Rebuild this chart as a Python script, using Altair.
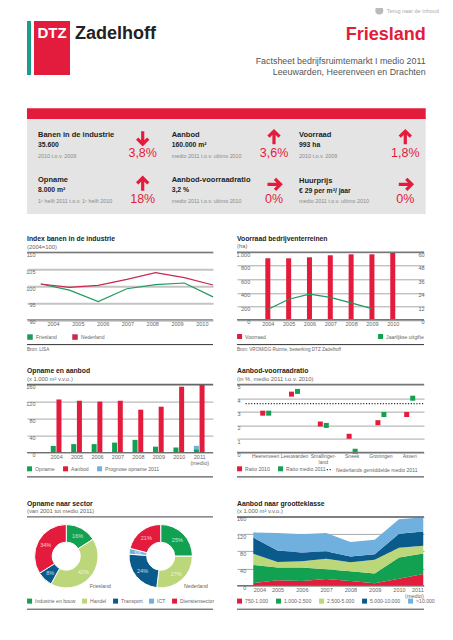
import altair as alt
import pandas as pd

# ---------- data ----------
IDX_YEARS = [2004, 2005, 2006, 2007, 2008, 2009, 2010]
IDX_FRIESLAND = [100.6, 98.8, 95.4, 99.2, 100.4, 100.9, 96.8]
IDX_NEDERLAND = [100.6, 99.6, 100.2, 102.0, 104.0, 102.5, 100.3]

STOCK_YEARS = [2004, 2005, 2006, 2007, 2008, 2009, 2010]
STOCK_HA = [911, 911, 926, 956, 970, 970, 993]
ISSUE_YEARS = [2004, 2005, 2006, 2007, 2008, 2009]
ISSUE_HA = [9.2, 18.3, 22.8, 20, 15, 10]

OA_YEARS = [2004, 2005, 2006, 2007, 2008, 2009, 2010, 2011]
OPNAME = [15.7, 20, 20, 23.5, 30, 14, 12, 8]
PROGNOSE = [0, 0, 0, 0, 0, 0, 0, 8]
AANBOD = [125, 122, 120, 122, 101, 108, 155, 160]

CITIES = ["Heerenveen", "Leeuwarden", "Smallinger-\nland", "Sneek", "Groningen", "Assen"]
RATIO_2010 = [2.9, 4.3, 2.1, 1.2, 2.2, 2.8]
RATIO_2011 = [2.9, 4.5, 2.0, 0.1, 2.8, 4.0]
RATIO_NL = 3.6

SECTORS = ["Industrie en bouw", "Handel", "Transport", "ICT", "Dienstensector"]
SECTOR_FR = [16, 42, 8, 0, 34]
SECTOR_NL = [25, 27, 24, 3, 21]

SIZE_YEARS = [2004, 2005, 2006, 2007, 2008, 2009, 2010, 2011]
SIZE_CLASSES = ["750-1.000", "1.000-2.500", "2.500-5.000", "5.000-10.000", ">10.000"]
SIZE_VALUES = [
    [6, 12.5, 11, 15.5, 11, 5.5, 16, 27],
    [42, 29.5, 31, 22.5, 22.5, 22.5, 49.5, 48],
    [26, 13, 15, 24.5, 21, 32, 22.5, 18],
    [38, 27, 20, 17.5, 13.5, 13, 33, 33],
    [12, 40.5, 42.5, 42.5, 33.5, 34, 33.5, 33],
]

KPI_TITLES = ["Banen in de industrie", "Aanbod", "Voorraad",
              "Opname", "Aanbod-voorraadratio", "Huurprijs"]
KPI_VALUES = ["35.600", "160.000 m²", "993 ha", "8.000 m²", "3,2 %", "€ 29 per m²/ jaar"]
KPI_NOTES = ["2010 t.o.v. 2009", "medio 2011 t.o.v. ultimo 2010", "2010 t.o.v. 2009",
             "1ᵉ helft 2011 t.o.v. 1ᵉ helft 2010", "medio 2011 t.o.v. ultimo 2010",
             "medio 2011 t.o.v. ultimo 2010"]
KPI_PCT = ["3,8%", "3,6%", "1,8%", "18%", "0%", "0%"]
KPI_DIR = ["down", "up", "up", "up", "right", "right"]

# ---------- style ----------
FONT = "Liberation Sans"
RED = "#e31b3c"
GREEN = "#12a150"
LGREEN = "#bcd67a"
DBLUE = "#0b5a8c"
LBLUE = "#6fb0de"
GREY_TXT = "#666666"
DARK = "#222222"
ONE = alt.Data(values=[{"a": 1}])
LEG_Y = 81.5

ARROWS = {
    "up": "M0,1L0,-1M-0.85,-0.15L0,-1L0.85,-0.15",
    "down": "M0,-1L0,1M-0.85,0.15L0,1L0.85,0.15",
    "right": "M-1,0L1,0M0.15,-0.85L1,0L0.15,0.85",
}


def txt(s, x, y, size=5.5, color=GREY_TXT, align="left", weight="normal", baseline="middle"):
    return alt.Chart(ONE).mark_text(text=s, fontSize=size, color=color, align=align,
                                    fontWeight=weight, baseline=baseline, font=FONT
                                    ).encode(x=alt.value(x), y=alt.value(y))


def box(x, x2, y, y2, color):
    return alt.Chart(ONE).mark_rect(color=color).encode(
        x=alt.value(x), x2=alt.value(x2), y=alt.value(y), y2=alt.value(y2))


def hrule(w, y, color="#666666", sw=1.0):
    return alt.Chart(ONE).mark_rule(color=color, strokeWidth=sw).encode(
        x=alt.value(0), x2=alt.value(w), y=alt.value(y))


def ttl(a, b):
    return alt.TitleParams(text=a, subtitle=b, anchor="start", frame="group", offset=2.5,
                           font=FONT, fontSize=6.8, fontWeight="bold", color=DARK,
                           subtitleFont=FONT, subtitleFontSize=5.8, subtitleColor=GREY_TXT,
                           subtitlePadding=0.5)


def legend(y, pad, x=0, columns=5):
    return alt.Legend(orient="none", legendX=x, legendY=y, direction="horizontal", columns=columns,
                      title=None, symbolType="square", symbolSize=25, symbolStrokeWidth=0,
                      labelFont=FONT, labelFontSize=5.1, labelColor=GREY_TXT, labelOffset=3,
                      columnPadding=pad, padding=0, symbolOpacity=1, labelLimit=300)


def yaxis(values, pad, orient="left", grid=True, gcol="#a8a8a8", gw=1.0, expr=None, align=None):
    kw = {}
    if expr:
        kw["labelExpr"] = expr
    return alt.Axis(values=values, orient=orient, title=None, domain=False, ticks=False,
                    grid=grid, gridColor=gcol, gridWidth=gw, labelFont=FONT, labelFontSize=5.5,
                    labelColor=GREY_TXT, labelPadding=pad, labelBaseline="top",
                    labelAlign=align or "right", labelFlush=False, labelBound=False, **kw)


def xaxis(values, pad=1.5, **kw):
    return alt.Axis(values=values, title=None, domain=False, ticks=False, grid=False,
                    labelFont=FONT, labelFontSize=5.5, labelColor=GREY_TXT, labelPadding=pad,
                    labelAngle=0, labelFlush=False, labelBound=False, labelOverlap=False,
                    format="d", **kw)


W1, W2 = 186, 187
H1, H2, H3 = 67.5, 68, 68.7
MEDIO = "datum.value==2011?['2011','(medio)']:datum.label"

# ---------- header ----------
head = [
    box(0, 4, 13, 67, "#1a9e8a"),
    box(7, 43, 13, 67, RED),
    txt("DTZ", 25, 25, 15, "#ffffff", "center", "bold"),
    txt("Zadelhoff", 48, 26, 18, DARK, "left", "bold"),
    txt("Terug naar de inhoud", 359.7, 2.5, 5.5, "#aaaaaa"),
    alt.Chart(ONE).mark_circle(color="#bbbbbb", size=64, opacity=1).encode(
        x=alt.value(352.3), y=alt.value(2.5)),
    txt("Friesland", 398.7, 27.3, 18, RED, "right", "bold"),
    txt("Factsheet bedrijfsruimtemarkt I medio 2011", 398.7, 53, 8.9, "#555555", "right"),
    txt("Leeuwarden, Heerenveen en Drachten", 398.7, 64.3, 8.9, "#555555", "right"),
    box(0, 398.7, 108, 206, "#e4e4e4"),
    box(0, 398.7, 100.3, 111, RED),
]
COLX = [11, 144.7, 272]
ARRX = [115.7, 247, 378.3]
ROWY = [[127, 137, 147.7], [172.3, 182, 192.7]]
ARRY = [[129.7, 145.3], [176.3, 190.7]]
for i in range(6):
    r, c = i // 3, i % 3
    extra = 0.7 if (r == 1 and c == 2) else 0
    head += [
        txt(KPI_TITLES[i], COLX[c], ROWY[r][0] + extra, 7.5, DARK, weight="bold"),
        txt(KPI_VALUES[i], COLX[c], ROWY[r][1] + extra, 6.8, DARK, weight="bold"),
        txt(KPI_NOTES[i], COLX[c], ROWY[r][2] + extra, 5.4, "#8a8a8a"),
        alt.Chart(ONE).mark_point(shape=ARROWS[KPI_DIR[i]], size=170, filled=False, opacity=1,
                                  stroke=RED, strokeWidth=3.2).encode(
            x=alt.value(ARRX[c]), y=alt.value(ARRY[r][0])),
        txt(KPI_PCT[i], ARRX[c], ARRY[r][1], 12.5, RED, "center"),
    ]
header = alt.layer(*head).properties(width=W1, height=179.7)
blank = alt.Chart(ONE).mark_text(text=" ").encode(x=alt.value(0), y=alt.value(0)).properties(width=W2, height=179.7)

# ---------- chart 1 ----------
d1 = pd.DataFrame({"year": IDX_YEARS * 2, "v": IDX_FRIESLAND + IDX_NEDERLAND,
                   "s": ["Friesland"] * 7 + ["Nederland"] * 7})
lab1 = pd.DataFrame({"year": IDX_YEARS})
c1_line = alt.Chart(d1).mark_line(strokeWidth=1.2, clip=False).encode(
    x=alt.X("year:Q", scale=alt.Scale(domain=[2003.52, 2010], nice=False, zero=False), axis=None),
    y=alt.Y("v:Q", scale=alt.Scale(domain=[90, 110], nice=False, zero=False),
            axis=yaxis([90, 95, 100, 105, 110], -8, gcol="#c4c4c4", gw=2)),
    color=alt.Color("s:N", scale=alt.Scale(domain=["Friesland", "Nederland"], range=["#1f9a5c", "#c9284f"]),
                    legend=alt.Legend(orient="none", legendX=0, legendY=LEG_Y, direction="horizontal",
                                      columns=2, title=None, symbolType="square", symbolSize=1,
                                      symbolStrokeWidth=4.5, labelFont=FONT, labelFontSize=5.1,
                                      labelColor=GREY_TXT, labelOffset=3, columnPadding=8, padding=0)),
)
c1_lab = alt.Chart(lab1).mark_text(opacity=0).encode(
    x=alt.X("year:Q", scale=alt.Scale(domain=[2002.95, 2010.45], nice=False, zero=False),
            axis=xaxis(IDX_YEARS)),
    text="year:Q",
)
c1 = alt.layer(
    c1_line, c1_lab,
    hrule(W1, 0, "#666666", 1), hrule(W1, H1, "#777777", 1),
    hrule(W1, 92.3, "#333333", 1),
    txt("Bron: LISA", 0, 97.5, 4.6),
).resolve_scale(x="independent").properties(width=W1, height=H1, title=ttl("Index banen in de industrie", "(2004=100)"))

# ---------- chart 2 ----------
d2 = pd.DataFrame({"year": STOCK_YEARS, "v": STOCK_HA, "s": ["Voorraad"] * 7})
d2b = pd.DataFrame({"year": ISSUE_YEARS, "v": ISSUE_HA})
x2_scale = alt.Scale(domain=[2002.76, 2011.26], nice=False, zero=False)
x2_axis = xaxis(STOCK_YEARS)
c2_bar = alt.Chart(d2).mark_bar(size=5).encode(
    x=alt.X("year:Q", scale=x2_scale, axis=x2_axis),
    y=alt.Y("v:Q", scale=alt.Scale(domain=[0, 1000], nice=False),
            axis=yaxis([0, 200, 400, 600, 800, 1000], -12.7, gcol="#a8a8a8",
                       expr="datum.value==1000?'1.000':datum.label")),
    color=alt.Color("s:N", scale=alt.Scale(domain=["Voorraad", "Jaarlijkse uitgifte"], range=[RED, GREEN]),
                    legend=legend(LEG_Y, 112)),
)
c2_line = alt.Chart(d2b).mark_line(strokeWidth=1.2, color="#1f9a5c").encode(
    x=alt.X("year:Q", scale=x2_scale, axis=x2_axis),
    y=alt.Y("v:Q", scale=alt.Scale(domain=[0, 60], nice=False),
            axis=yaxis([0, 12, 24, 36, 48, 60], 0, orient="right", grid=False)),
)
c2 = alt.layer(
    c2_bar, c2_line,
    hrule(W2, 0, "#777777", 1.5), hrule(W2, H1, "#777777", 1.5),
    hrule(W2, 92.3, "#333333", 1),
    txt("Bron: VROM/DG Ruimte, bewerking DTZ Zadelhoff", 0, 97.5, 4.6),
).resolve_scale(y="independent").properties(width=W2, height=H1, title=ttl("Voorraad bedrijventerreinen", "(ha)"))

# ---------- chart 3 ----------
d3 = pd.DataFrame({
    "year": OA_YEARS * 2, "v": OPNAME + PROGNOSE,
    "s": ["Opname"] * 8 + ["Prognose opname 2011"] * 8,
    "o": [0] * 8 + [1] * 8})
d3b = pd.DataFrame({"year": OA_YEARS, "v": AANBOD, "s": ["Aanbod"] * 8})
x3_scale = alt.Scale(domain=[2002.82, 2011.43], nice=False, zero=False)
y3_scale = alt.Scale(domain=[0, 160], nice=False)
x3_axis = xaxis(OA_YEARS, labelExpr=MEDIO, labelLineHeight=6)
y3_axis = yaxis([0, 40, 80, 120, 160], -8)
col3 = alt.Scale(domain=["Opname", "Aanbod", "Prognose opname 2011"], range=[GREEN, RED, LBLUE])
c3_a = alt.Chart(d3).mark_bar(size=5, xOffset=-2.85).encode(
    x=alt.X("year:Q", scale=x3_scale, axis=x3_axis),
    y=alt.Y("v:Q", scale=y3_scale, stack=True, axis=y3_axis),
    order=alt.Order("o:Q"),
    color=alt.Color("s:N", scale=col3, legend=legend(LEG_Y, 8)),
)
c3_b = alt.Chart(d3b).mark_bar(size=5, xOffset=2.85).encode(
    x=alt.X("year:Q", scale=x3_scale, axis=x3_axis),
    y=alt.Y("v:Q", scale=y3_scale, axis=y3_axis),
    color=alt.Color("s:N", scale=col3),
)
c3 = alt.layer(
    c3_a, c3_b,
    hrule(W1, 0, "#666666", 1.5), hrule(W1, H2, "#666666", 1),
    hrule(W1, 92.3, "#333333", 1),
).properties(width=W1, height=H2, title=ttl("Opname en aanbod", "(x 1.000 m² v.v.o.)"))

# ---------- chart 4 ----------
d4 = pd.DataFrame({"i": list(range(6)), "r10": RATIO_2010, "r11": RATIO_2011, "c": CITIES})
x4_scale = alt.Scale(domain=[-0.997, 5.496], nice=False, zero=False)
y4_scale = alt.Scale(domain=[0, 5], nice=False)
y4_axis = yaxis([0, 1, 2, 3, 4, 5], -3)
col4 = alt.Scale(domain=["Ratio 2010", "Ratio medio 2011"], range=[RED, GREEN])
c4_a = alt.Chart(d4.assign(s="Ratio 2010")).mark_square(size=25, opacity=1, xOffset=-3).encode(
    x=alt.X("i:Q", scale=x4_scale, axis=None),
    y=alt.Y("r10:Q", scale=y4_scale, axis=y4_axis),
    color=alt.Color("s:N", scale=col4, legend=legend(LEG_Y, 8, columns=2)),
)
c4_b = alt.Chart(d4.assign(s="Ratio medio 2011")).mark_square(size=25, opacity=1, xOffset=3).encode(
    x=alt.X("i:Q", scale=x4_scale, axis=None),
    y=alt.Y("r11:Q", scale=y4_scale, axis=y4_axis),
    color=alt.Color("s:N", scale=col4),
)
c4_lab = alt.Chart(d4).mark_text(fontSize=5, color=GREY_TXT, font=FONT, lineBreak="\n", baseline="top",
                                 lineHeight=5.5, yOffset=1.5).encode(
    x=alt.X("i:Q", scale=x4_scale, axis=None),
    y=alt.value(H2),
    text="c:N",
)
c4_avg = alt.Chart(pd.DataFrame({"x": [-0.7], "x2": [5.5], "y": [RATIO_NL], "s": ["Nederlands gemiddelde medio 2011"]})).mark_rule(
    color="#333333", strokeWidth=1.2).encode(
    y=alt.Y("y:Q", scale=y4_scale, axis=y4_axis),
    x=alt.X("x:Q", scale=x4_scale, axis=None),
    x2="x2:Q",
    strokeDash=alt.StrokeDash("s:N", scale=alt.Scale(range=[[1.2, 1.6]]),
                              legend=alt.Legend(orient="none", legendX=89, legendY=LEG_Y, title=None,
                                                symbolType="stroke", symbolSize=30, symbolStrokeColor="#333333",
                                                symbolStrokeWidth=1.2, symbolDashOffset=0, labelFont=FONT,
                                                labelFontSize=5.1, labelColor=GREY_TXT, labelOffset=3,
                                                padding=0, labelLimit=300)),
)
c4 = alt.layer(
    c4_avg, c4_a, c4_b, c4_lab,
    hrule(W2, 0, "#777777", 1.5), hrule(W2, H2, "#777777", 1.5),
    hrule(W2, 92.3, "#333333", 1),
).properties(
    width=W2, height=H2, title=ttl("Aanbod-voorraadratio", "(in %, medio 2011 t.o.v. 2010)"))

# ---------- chart 5 ----------
def donut_df(vals):
    return pd.DataFrame([{"sector": s, "v": v, "o": i, "lab": f"{v}%"}
                         for i, (s, v) in enumerate(zip(SECTORS, vals)) if v > 0])


col5 = alt.Scale(domain=SECTORS, range=[GREEN, LGREEN, DBLUE, LBLUE, RED])


def donut(vals, cx, cy, leg=None):
    base = alt.Chart(donut_df(vals))
    arc = base.mark_arc(outerRadius=31.7, innerRadius=14, stroke="#ffffff", strokeWidth=1).encode(
        theta=alt.Theta("v:Q", stack=True, scale=alt.Scale(domain=[0, 100])),
        order=alt.Order("o:Q"),
        color=alt.Color("sector:N", scale=col5, legend=leg),
        x=alt.value(cx), y=alt.value(cy),
    )
    lab = base.mark_text(radius=23.5, fontSize=5.5, font=FONT, color="#ffffff", opacity=0.75).encode(
        theta=alt.Theta("v:Q", stack=True, scale=alt.Scale(domain=[0, 100])),
        order=alt.Order("o:Q"),
        text="lab:N",
        x=alt.value(cx), y=alt.value(cy),
    )
    return [arc, lab]


c5 = alt.layer(
    hrule(W1, 0, "#444444", 1), hrule(W1, 92.3, "#444444", 1),
    *donut(SECTOR_FR, 39.3, 39.3, legend(LEG_Y, 6)),
    *donut(SECTOR_NL, 133.7, 39.3, None),
    txt("Friesland", 84, 69, 5.2, GREY_TXT, "right"),
    txt("Nederland", 181, 69, 5.2, GREY_TXT, "right"),
).properties(width=W1, height=H3, title=ttl("Opname naar sector", "(van 2001 tot medio 2011)"))

# ---------- chart 6 ----------
rows = []
for k, (cl, vals) in enumerate(zip(SIZE_CLASSES, SIZE_VALUES)):
    for y, v in zip(SIZE_YEARS, vals):
        rows.append({"year": y, "v": v, "s": cl, "o": k})
d6 = pd.DataFrame(rows)
c6_area = alt.Chart(d6).mark_area(opacity=1).encode(
    x=alt.X("year:Q", scale=alt.Scale(domain=[2003.33, 2011.03], nice=False, zero=False),
            axis=xaxis(SIZE_YEARS, labelExpr=MEDIO, labelLineHeight=6,
                       labelAlign={"condition": [{"test": "datum.value==2004", "value": "left"},
                                                 {"test": "datum.value==2011", "value": "right"}],
                                   "value": "center"})),
    y=alt.Y("v:Q", stack=True, scale=alt.Scale(domain=[0, 160], nice=False),
            axis=yaxis([0, 40, 80, 120, 160], -8.7)),
    order=alt.Order("o:Q"),
    color=alt.Color("s:N", scale=alt.Scale(domain=SIZE_CLASSES, range=[RED, GREEN, LGREEN, DBLUE, LBLUE]),
                    sort=SIZE_CLASSES, legend=legend(LEG_Y, 7)),
)
c6 = alt.layer(
    c6_area,
    hrule(W2, 0, "#333333", 1), hrule(W2, H3, "#666666", 1),
    hrule(W2, 92.3, "#444444", 1),
).properties(width=W2, height=H3, title=ttl("Aanbod naar grootteklasse", "(x 1.000 m² v.v.o.)"))

# ---------- layout ----------
chart = alt.concat(header, blank, c1, c2, c3, c4, c5, c6, columns=2,
                   spacing={"row": 64.3, "column": 24}, bounds="flush").resolve_scale(
    color="independent", strokeDash="independent", theta="independent"
).properties(
    autosize=alt.AutoSizeParams(type="none"),
    padding={"left": 19, "top": 0, "right": 418, "bottom": 624}
).configure_view(stroke=None)

chart.save("out.html", embed_options={"renderer": "svg", "actions": False})
